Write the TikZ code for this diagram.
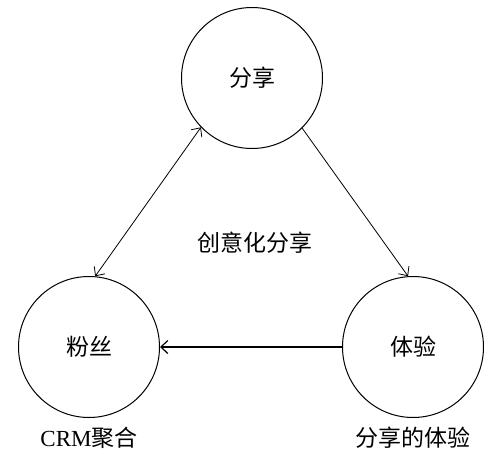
\documentclass[tikz,border=0pt]{standalone}
\usepackage{fontspec}
\setmainfont{Liberation Serif}
\newfontfamily\cjk{Noto Sans CJK SC}
\usetikzlibrary{arrows.meta}
\usetikzlibrary{positioning}
\begin{document}
\begin{tikzpicture}[->,>={Straight Barb[length=7pt,width=13pt]},line width=0.8pt,
            on grid,
            hub node/.style={circle,draw,line width=1pt,minimum size=141pt,inner sep=0pt,font=\cjk\fontsize{23}{27}\selectfont},
            tag node/.style={font=\fontsize{23}{27}\selectfont}
            ]
            \useasboundingbox (0,0) rectangle (496pt,-463pt);

            \node[hub node](share) at (252pt,-78pt){分享};
            \node[hub node](fans)[below left=269pt and 163pt of share]{粉丝};
            \node[hub node](exp)[right=324pt of fans]{体验};

            \node[tag node](idea)[below=165pt of share, xshift=3pt]{\cjk 创意化分享};
            \node[tag node](crm)[below=91pt of fans]{CRM{\cjk 聚合}};
            \node[tag node](shexp)[below=91pt of exp]{\cjk 分享的体验};

            \path
            (share.224) edge[<->] (fans.85)
            (share.315) edge (exp.94)
            (exp) edge[line width=1.2pt] (fans);

        \end{tikzpicture}
\end{document}
